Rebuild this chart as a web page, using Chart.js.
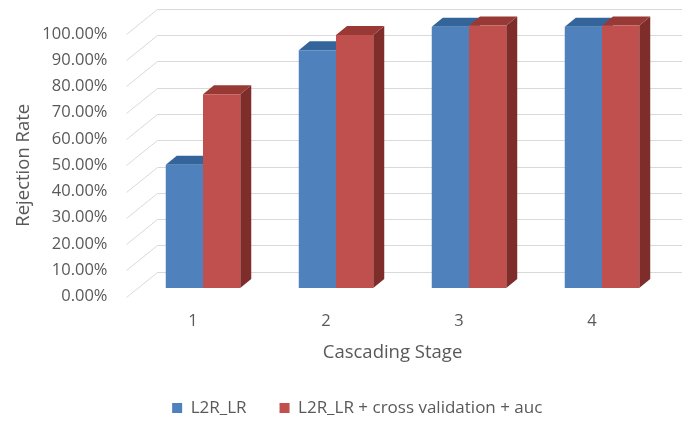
<!DOCTYPE html>
<html>
<head>
<meta charset="utf-8">
<script src="https://cdn.jsdelivr.net/npm/chart.js@4/dist/chart.umd.min.js"></script>
<style>
  html, body { margin: 0; padding: 0; background: #ffffff; }
  #wrap { width: 683px; height: 423px; }
</style>
</head>
<body>
<div id="wrap"><canvas id="c" width="683" height="423"></canvas></div>
<script>
// Cascading stages and the rejection rate reached by each model at that stage
const stages = ['1', '2', '3', '4'];
const l2rLr = [0.47, 0.906, 0.995, 0.995];
const l2rLrCvAuc = [0.738, 0.964, 1.0, 1.0];
const seriesNames = ['L2R_LR', 'L2R_LR + cross validation + auc'];

// Drawing constants for the pseudo-3D look
const TEXT = '#595959';
const FONT = '"Open Sans", "DejaVu Sans", sans-serif';
const WALL_DX = 31, WALL_DY = -25;   // front plane -> back wall
const WALL_RIGHT = 682;
const BAR_DX = 10, BAR_DY = -8.5;    // front plane -> front face of the bars
const DEPTH_DX = 11, DEPTH_DY = -9;  // thickness of each bar
const X_AXIS_HEIGHT = 66.5;
const LEGEND_SHIFT_X = 28;
const LEGEND_SHIFT_Y = 3.5;

const faces = [
  { front: '#4F81BD', top: '#33649A', side: '#2F5A8A' },
  { front: '#C0504D', top: '#983935', side: '#7E2D2A' }
];

const depth3d = {
  id: 'depth3d',
  afterLayout(chart) {
    const lg = chart.legend;
    if (lg) {
      lg.left += LEGEND_SHIFT_X; lg.right += LEGEND_SHIFT_X;
      lg.top += LEGEND_SHIFT_Y; lg.bottom += LEGEND_SHIFT_Y;
    }
  },
  beforeDatasetsDraw(chart) {
    const { ctx, chartArea: a, scales: { y } } = chart;
    // floor diagonals and back wall gridlines
    ctx.save();
    ctx.strokeStyle = '#d9d9d9';
    ctx.lineWidth = 1;
    y.ticks.forEach(t => {
      const py = Math.round(y.getPixelForValue(t.value)) + 0.5;
      ctx.beginPath();
      ctx.moveTo(a.left, py);
      ctx.lineTo(a.left + WALL_DX, py + WALL_DY);
      ctx.lineTo(WALL_RIGHT, py + WALL_DY);
      ctx.stroke();
    });
    ctx.restore();

    // bars sit a little behind the front plane; the translation stays
    // active while Chart.js draws the front faces
    ctx.save();
    ctx.translate(BAR_DX, BAR_DY);
    chart.data.datasets.forEach((ds, i) => {
      const meta = chart.getDatasetMeta(i);
      const f = faces[i];
      meta.data.forEach(bar => {
        const { x, y: top, base, width } = bar.getProps(['x', 'y', 'base', 'width'], true);
        const l = x - width / 2, r = x + width / 2;
        ctx.fillStyle = f.side;
        ctx.beginPath();
        ctx.moveTo(r, top);
        ctx.lineTo(r + DEPTH_DX, top + DEPTH_DY);
        ctx.lineTo(r + DEPTH_DX, base + DEPTH_DY);
        ctx.lineTo(r, base);
        ctx.closePath();
        ctx.fill();
        ctx.fillStyle = f.top;
        ctx.beginPath();
        ctx.moveTo(l, top);
        ctx.lineTo(r, top);
        ctx.lineTo(r + DEPTH_DX, top + DEPTH_DY);
        ctx.lineTo(l + DEPTH_DX, top + DEPTH_DY);
        ctx.closePath();
        ctx.fill();
      });
    });
  },
  afterDatasetsDraw(chart) {
    chart.ctx.restore();
  }
};

new Chart(document.getElementById('c'), {
  type: 'bar',
  data: {
    labels: stages,
    datasets: [
      { label: seriesNames[0], data: l2rLr, backgroundColor: faces[0].front, clip: false,
        categoryPercentage: 0.56, barPercentage: 1.0 },
      { label: seriesNames[1], data: l2rLrCvAuc, backgroundColor: faces[1].front, clip: false,
        categoryPercentage: 0.56, barPercentage: 1.0 }
    ]
  },
  options: {
    responsive: false,
    animation: false,
    devicePixelRatio: 1,
    layout: { padding: { top: 34, right: 24.5, left: 0, bottom: 0 } },
    plugins: {
      legend: {
        position: 'bottom',
        labels: {
          color: TEXT,
          font: { family: FONT, size: 17 },
          boxWidth: 10,
          boxHeight: 10,
          padding: 33
        }
      },
      tooltip: { enabled: false }
    },
    scales: {
      x: {
        grid: { display: false, drawTicks: false },
        border: { display: false },
        afterFit(scale) { scale.height = X_AXIS_HEIGHT; },
        ticks: { color: TEXT, font: { family: FONT, size: 16.5 }, padding: 15 },
        title: { display: true, text: 'Cascading Stage', color: TEXT,
                 font: { family: FONT, size: 18.5 }, padding: { top: 10.5, bottom: -1 } }
      },
      y: {
        min: 0,
        max: 1,
        grid: { display: false, drawTicks: false },
        border: { display: false },
        afterFit(scale) { scale.width = 126.5; },
        ticks: {
          stepSize: 0.1,
          color: TEXT,
          font: { family: FONT, size: 16.5 },
          padding: 19,
          callback: v => (v * 100).toFixed(2) + '%'
        },
        title: { display: true, text: 'Rejection Rate', color: TEXT,
                 font: { family: FONT, size: 18.5 }, padding: { top: 13, bottom: 0 } }
      }
    }
  },
  plugins: [depth3d]
});
</script>
</body>
</html>
